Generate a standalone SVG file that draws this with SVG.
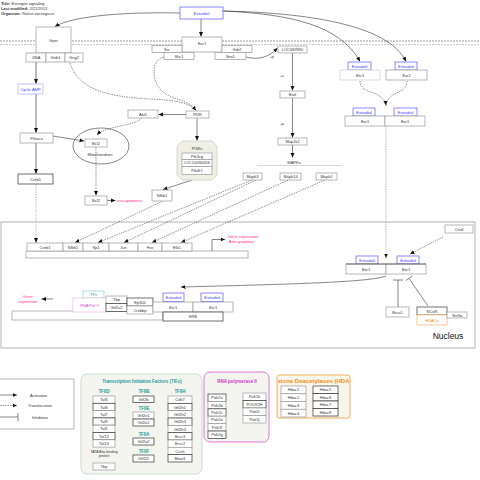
<svg xmlns="http://www.w3.org/2000/svg" width="480" height="480" viewBox="0 0 480 480">
<defs>
<style>
text{font-family:"Liberation Sans",Arial,sans-serif;font-size:4px;fill:#333}
.c{text-anchor:middle;dominant-baseline:central}
.b{fill:#fff;stroke:#999;stroke-width:0.7}
.bd{fill:#fff;stroke:#333;stroke-width:0.7}
.bl{fill:#fff;stroke:#6a6aff;stroke-width:0.8}
.tb{fill:#3a3aff}
.pk{fill:#ff2a8a}
.ln{fill:none;stroke:#333;stroke-width:0.6}
.lg{fill:none;stroke:#aaa;stroke-width:1.6}
.ds{fill:none;stroke:#444;stroke-width:0.6;stroke-dasharray:1.5,1}
.dg{fill:none;stroke:#aaa;stroke-width:0.8;stroke-dasharray:1.5,1}
.hd{font-weight:bold;font-size:4.5px}
.teal{fill:#1a9a9a}
</style>
<marker id="a" markerUnits="userSpaceOnUse" markerWidth="5" markerHeight="5" refX="4.5" refY="2.5" orient="auto">
<path d="M0,0.5 L4.5,2.5 L0,4.5 z" fill="#111"/>
</marker>
<clipPath id="hclip"><rect x="278" y="376" width="71" height="10"/></clipPath>
</defs>

<g id="header">
<text x="1" y="5"><tspan font-weight="bold">Title:</tspan> Estrogen signaling</text>
<text x="1" y="10"><tspan font-weight="bold">Last modified:</tspan> 2/21/2013</text>
<text x="1" y="15"><tspan font-weight="bold">Organism:</tspan> Rattus norvegicus</text>
</g>

<g id="membrane">
<line x1="0" y1="41" x2="480" y2="41" stroke="#555" stroke-width="0.6" stroke-dasharray="2,1"/>
<line x1="0" y1="44.5" x2="480" y2="44.5" stroke="#aaa" stroke-width="0.6" stroke-dasharray="2,1"/>
</g>

<g id="nucleus">
<rect x="1" y="222" width="474" height="126" fill="none" stroke="#aaa" stroke-width="0.9"/>
<text x="448" y="339" style="font-size:8.5px;text-anchor:middle;fill:#111">Nucleus</text>
</g>

<g id="connectors">
<path class="ln" d="M180,13 C130,12 75,15 55,26.5" marker-end="url(#a)"/>
<path class="ln" d="M201,19 L201,36.5" marker-end="url(#a)"/>
<path class="ln" d="M223,11 C290,14 340,25 360,61.5" marker-end="url(#a)"/>
<path class="ln" d="M223,11 C320,13 390,28 406,61.5" marker-end="url(#a)"/>
<path class="ds" d="M360,81 C360,95 384,90 386,105.5" marker-end="url(#a)"/>
<path class="ds" d="M407,81 C407,95 388,90 386,105.5"/>
<path class="dg" d="M386,126 L386,258" marker-end="url(#a)"/>
<path class="ds" d="M443,237 L410,254" marker-end="url(#a)"/>
<path class="ln" d="M246,57 C258,60 268,58 277.5,48" marker-end="url(#a)"/>
<path class="ln" d="M292.5,53 L292.5,90.5" marker-end="url(#a)"/>
<path class="ln" d="M292.5,98 L292.5,137.5" marker-end="url(#a)"/>
<path class="ln" d="M292.5,145 L292.5,157.5" marker-end="url(#a)"/>
<path class="lg" d="M36,62 L36,83.5"/>
<path class="ln" d="M36,80 L36,83.5" marker-end="url(#a)"/>
<path class="lg" d="M36,94 L36,132.5"/>
<path class="ln" d="M36,130 L36,132.5" marker-end="url(#a)"/>
<path class="lg" d="M36,143 L36,173.5"/>
<path class="ln" d="M36,171 L36,173.5" marker-end="url(#a)"/>
<path class="dg" d="M36,184 L36,242.5"/>
<path class="ln" d="M36,239 L36,242.5" marker-end="url(#a)"/>
<path class="ds" d="M70,63 C78,90 110,97 150,99 C175,100 190,103 196,110.5" marker-end="url(#a)"/>
<path class="ds" d="M164,57 C150,60 152,82 162,91 C172,100 190,100 196,110.5"/>
<path class="ln" d="M186,114.5 L158.5,114.5" marker-end="url(#a)"/>
<path class="ln" d="M197,118 L197,140.5" marker-end="url(#a)"/>
<path class="ln" d="M192,180 L163,189.5" marker-end="url(#a)"/>
<path class="ds" d="M142,118 C135,126 105,126 97,135" marker-end="url(#a)"/>
<path class="ln" d="M53,136 L84,141" marker-end="url(#a)"/>
<path class="ds" d="M96,147 L96,195.5" marker-end="url(#a)"/>
<path class="ln" d="M107,200.5 L115.5,200.5" marker-end="url(#a)"/>
<path class="ds" d="M163,201 L75,242.5" marker-end="url(#a)"/>
<path class="ds" d="M252,180 L98,242.5" marker-end="url(#a)"/>
<path class="ds" d="M256,180 L124,242.5" marker-end="url(#a)"/>
<path class="ds" d="M288,180 L152,242.5" marker-end="url(#a)"/>
<path class="ds" d="M325,180 L181,242.5" marker-end="url(#a)"/>
<path class="ln" d="M212,251 L212,239.5 L225,239.5" marker-end="url(#a)"/>
<path class="ln" d="M386,276 C370,282 300,284 181,287" stroke-width="0.8" marker-end="url(#a)"/>
<path class="ln" d="M53,299 L41.5,299" marker-end="url(#a)"/>
<path class="ln" d="M398,307 L398,280"/>
<path class="ln" d="M393,280 L403,280" stroke-width="0.9"/>
<path class="ln" d="M428,306 L409,278.5"/>
<path class="ln" d="M412.3,276 L405.7,280.6" stroke-width="0.9"/>
</g>

<g id="gper">
<rect class="b" x="36" y="27" width="35" height="26"/>
<text class="c" x="53.5" y="40">Gper</text>
<rect class="b" x="26" y="53" width="20" height="9"/><text class="c" x="36" y="57.5">GNA</text>
<rect class="b" x="46" y="53" width="19" height="9"/><text class="c" x="55.5" y="57.5">Gnb1</text>
<rect class="b" x="65" y="53" width="18" height="9"/><text class="c" x="74" y="57.5">Gng2</text>
</g>

<g id="estradiol-top">
<rect class="bl" x="180" y="7" width="43" height="12"/>
<text class="c tb" x="201.5" y="13">Estradiol</text>
</g>

<g id="esr1-membrane">
<rect class="b" x="182" y="37" width="40" height="15"/><text class="c" x="202" y="43">Esr1</text>
<rect class="b" x="152" y="45.5" width="30" height="7"/><text class="c" x="167" y="49">Src</text>
<rect class="b" x="222" y="45.5" width="30" height="7"/><text class="c" x="237" y="49">Grb2</text>
<rect class="b" x="164" y="52.5" width="30" height="7"/><text class="c" x="179" y="56">Shc1</text>
<rect class="b" x="215" y="52.5" width="31" height="7"/><text class="c" x="230.5" y="56">Sos1</text>
<text x="270" y="57.5" style="font-size:3.5px">+p</text>
</g>

<g id="loc"><rect class="b" x="278" y="46" width="29" height="7"/><text class="c" x="292.5" y="49.5">LOC687890</text></g>
<text x="280" y="77" style="font-size:3.5px">+u</text>
<g id="braf"><rect class="b" x="280" y="91" width="25" height="7"/><text class="c" x="292.5" y="94.5">Braf</text></g>
<text x="280" y="125" style="font-size:3.5px">+p</text>
<g id="map2k1"><rect class="b" x="278" y="138" width="29" height="7"/><text class="c" x="292.5" y="141.5">Map2k1</text></g>

<g id="mapks">
<text class="c" x="294" y="162">MAPKs</text>
<line x1="257" y1="165.5" x2="342" y2="165.5" stroke="#bbb" stroke-width="0.6"/>
<rect class="b" x="243" y="173" width="19" height="7"/><text class="c" x="252.5" y="176.5">Mapk3</text>
<rect class="b" x="280" y="173" width="21" height="7"/><text class="c" x="290.5" y="176.5">Mapk14</text>
<rect class="b" x="316" y="173" width="21" height="7"/><text class="c" x="326.5" y="176.5">Mapk1</text>
</g>

<g id="camp"><rect x="18" y="84" width="25" height="10" fill="#fff" stroke="#a8a8ff" stroke-width="0.7"/><text class="c tb" x="30.5" y="89">Cyclic AMP</text></g>
<g id="prkaca"><rect class="b" x="20" y="133" width="33" height="10"/><text class="c" x="36.5" y="138">Prkaca</text></g>
<g id="creb1"><rect class="bd" x="18" y="174" width="35" height="10"/><text class="c" x="35.5" y="179">Creb1</text></g>

<g id="akt1"><rect class="b" x="128" y="110" width="30" height="8"/><text class="c" x="143" y="114">Akt1</text></g>
<g id="pi3k"><rect class="b" x="186" y="111" width="23" height="7"/><text class="c" x="197.5" y="114.5">PI3K</text></g>

<g id="mitochondrion">
<ellipse cx="101" cy="146" rx="28" ry="18" fill="none" stroke="#333" stroke-width="0.6"/>
<text class="c" x="100" y="154">Mitochondrion</text>
<rect class="b" x="85" y="139" width="22" height="8"/><text class="c" x="96" y="143">Bcl2</text>
</g>
<g id="bcl2"><rect class="b" x="85" y="196" width="22" height="9"/><text class="c" x="96" y="200.5">Bcl2</text>
<text class="pk" x="117" y="201.5">anti-apoptosis</text></g>

<g id="pi3ks">
<path d="M182,141 L212,141 L217,146 L217,175 L212,180 L182,180 L177,175 L177,146 Z" fill="#f0efe4" stroke="#ccc" stroke-width="0.8"/>
<text class="c" x="197" y="148">PI3Ks</text>
<rect class="b" x="182" y="153" width="30" height="6.5"/><text class="c" x="197" y="156.3">Pik3cg</text>
<rect class="b" x="182" y="159.5" width="30" height="7"/><text class="c" x="197" y="163" style="font-size:3.6px">LOC100360058</text>
<rect class="b" x="182" y="166.5" width="30" height="8"/><text class="c" x="197" y="170.5">Pik3r1</text>
</g>
<g id="nfkb1"><rect class="b" x="152" y="190" width="20" height="11"/><text class="c" x="162" y="195.5">Nfkb1</text></g>

<g id="estradiol-r">
<rect class="bl" x="348" y="62" width="23" height="8"/><text class="c tb" x="359.5" y="66">Estradiol</text>
<rect class="bl" x="395" y="62" width="22" height="8"/><text class="c tb" x="406" y="66">Estradiol</text>
<rect x="340" y="70" width="40" height="10" fill="#fff" stroke="#ccc" stroke-width="0.7"/><text class="c" x="360" y="75">Esr1</text>
<rect class="b" x="386" y="70" width="41" height="10"/><text class="c" x="406.5" y="75">Esr2</text>
</g>

<g id="dimer">
<rect class="bl" x="353" y="108" width="22" height="8"/><text class="c tb" x="364" y="112">Estradiol</text>
<rect class="bl" x="394" y="108" width="23" height="8"/><text class="c tb" x="405.5" y="112">Estradiol</text>
<rect class="b" x="345" y="116" width="40" height="10"/><text class="c" x="365" y="121">Esr1</text>
<rect class="b" x="385" y="116" width="40" height="10"/><text class="c" x="405" y="121">Esr1</text>
</g>

<g id="targets">
<rect class="b" x="26" y="251" width="222" height="7"/>
<rect class="b" x="27" y="243" width="36" height="8"/><text class="c" x="45" y="247">Creb1</text>
<rect class="b" x="63" y="243" width="20" height="8"/><text class="c" x="73" y="247">Nfkb1</text>
<rect class="b" x="83" y="243" width="26" height="8"/><text class="c" x="96" y="247">Sp1</text>
<rect class="b" x="109" y="243" width="29" height="8"/><text class="c" x="123.5" y="247">Jun</text>
<rect class="b" x="138" y="243" width="24" height="8"/><text class="c" x="150" y="247">Fos</text>
<rect class="b" x="162" y="243" width="30" height="8"/><text class="c" x="177" y="247">Elk1</text>
<text class="pk" x="228" y="238">Gene expression</text>
<text class="pk" x="229" y="243">Anti apoptosis</text>
</g>

<g id="ctsd"><rect class="b" x="445" y="225" width="28" height="8"/><text class="c" x="459" y="229">Ctsd</text></g>

<g id="dimer-nuc">
<rect class="bl" x="356" y="256" width="22" height="8"/><text class="c tb" x="367" y="260">Estradiol</text>
<rect class="bl" x="397" y="256" width="22" height="8"/><text class="c tb" x="408" y="260">Estradiol</text>
<rect class="b" x="346" y="264" width="40" height="10"/><text class="c" x="366" y="269">Esr1</text>
<rect class="b" x="386" y="264" width="40" height="10"/><text class="c" x="406" y="269">Esr1</text>
<line x1="346" y1="264" x2="426" y2="264" stroke="#444" stroke-width="0.7"/>
</g>

<g id="brca1"><rect class="b" x="386" y="307" width="23" height="10"/><text class="c" x="397.5" y="312">Brca1</text></g>
<g id="ncor">
<rect class="bd" x="417" y="307" width="30" height="8"/><text class="c" x="432" y="311">NCoR</text>
<rect x="417" y="315" width="30" height="10" fill="#fff" stroke="#f5b070" stroke-width="0.7"/><text class="c" x="432" y="320" style="fill:#f08a20">HDACs</text>
<rect class="b" x="447" y="312" width="20" height="6"/><text class="c" x="457" y="315">Sin3a</text>
</g>

<g id="ere-complex">
<text class="c pk" x="28" y="296">Gene</text>
<text class="c pk" x="28" y="301">expression</text>
<rect class="b" x="12" y="311" width="151" height="9"/>
<rect x="83" y="291" width="21" height="7" fill="#fff" stroke="#7fd0d0" stroke-width="0.7"/><text class="c teal" x="93.5" y="294.5">TFs</text>
<rect x="73" y="298" width="33" height="14" fill="#fff" stroke="#ebb8eb" stroke-width="0.7"/><text class="c" x="89.5" y="305" style="fill:#d040d0">RNA Pol II</text>
<rect class="b" x="106" y="296" width="21" height="7.5"/><text class="c" x="116.5" y="299.8">Tbp</text>
<rect class="bd" x="106" y="303.5" width="21" height="8"/><text class="c" x="116.5" y="307.5">Gtf2a2</text>
<rect class="bd" x="127" y="298" width="26" height="8"/><text class="c" x="140" y="302">Ep300</text>
<rect class="b" x="127" y="306" width="26" height="8"/><text class="c" x="140" y="310">Crebbp</text>
<rect class="bl" x="163" y="293" width="21" height="8.5"/><text class="c tb" x="173.5" y="297.3">Estradiol</text>
<rect class="bl" x="201" y="293" width="22" height="8.5"/><text class="c tb" x="212" y="297.3">Estradiol</text>
<rect class="b" x="153" y="302" width="40" height="10"/><text class="c" x="173" y="307">Esr1</text>
<rect class="b" x="193" y="302" width="40" height="10"/><text class="c" x="213" y="307">Esr1</text>
<rect class="bd" x="163" y="312" width="60" height="9"/><text class="c" x="193" y="316.5">ERE</text>
</g>

<g id="legend">
<rect x="-1" y="379" width="75" height="50" fill="#fff" stroke="#999" stroke-width="0.7"/>
<path class="ln" d="M0,395 L17,395" marker-end="url(#a)"/>
<text x="30" y="396.5">Activation</text>
<path class="ds" d="M0,405.5 L17,405.5" marker-end="url(#a)"/>
<text x="28" y="407">Translocation</text>
<path class="ln" d="M0,417 L18,417 M18,413 L18,421"/>
<text x="32" y="418.5">Inhibition</text>
</g>

<g id="tifs">
<rect x="81" y="374" width="121" height="100" rx="6" fill="#f5f5ef" stroke="#c8ddd0" stroke-width="1"/>
<text class="c hd teal" x="142" y="381">Transcription Initiation Factors (TIFs)</text>
<text class="c hd teal" x="104" y="391">TFIID</text>
<rect class="b" x="93" y="396" width="22" height="7.3"/><text class="c" x="104" y="399.7">Taf5</text>
<rect class="bd" x="93" y="403.3" width="22" height="7.3"/><text class="c" x="104" y="407">Taf6</text>
<rect class="b" x="93" y="410.6" width="22" height="7.3"/><text class="c" x="104" y="414.3">Taf7</text>
<rect class="bd" x="93" y="417.9" width="22" height="7.3"/><text class="c" x="104" y="421.6">Taf9</text>
<rect class="b" x="93" y="425.2" width="22" height="7.3"/><text class="c" x="104" y="428.9">Taf1</text>
<rect class="bd" x="93" y="432.5" width="22" height="7.3"/><text class="c" x="104" y="436.2">Taf12</text>
<rect class="b" x="93" y="439.8" width="22" height="7.3"/><text class="c" x="104" y="443.5">Taf13</text>
<text class="c" x="104" y="452" style="font-size:3.5px">TATA Box binding</text>
<text class="c" x="104" y="456" style="font-size:3.5px">protein</text>
<rect class="b" x="93" y="463" width="22" height="7"/><text class="c" x="104" y="466.5">Tbp</text>
<text class="c hd teal" x="144" y="391">TFIIB</text>
<rect class="bd" x="133" y="396" width="21" height="6.5"/><text class="c" x="143.5" y="399.3">Gtf2b</text>
<text class="c hd teal" x="144" y="408">TFIIE</text>
<rect class="b" x="133" y="412" width="21" height="7"/><text class="c" x="143.5" y="415.5">Gtf2e1</text>
<rect class="bd" x="133" y="419" width="21" height="7"/><text class="c" x="143.5" y="422.5">Gtf2e2</text>
<text class="c hd teal" x="144" y="434">TFIIA</text>
<rect class="bd" x="133" y="438" width="21" height="7"/><text class="c" x="143.5" y="441.5">Gtf2a2</text>
<text class="c hd teal" x="144" y="451">TFIIF</text>
<rect class="bd" x="133" y="455" width="21" height="7"/><text class="c" x="143.5" y="458.5">Gtf2f2</text>
<text class="c hd teal" x="180" y="391">TFIIH</text>
<rect class="b" x="168" y="396" width="24" height="7.33"/><text class="c" x="180" y="399.7">Cdk7</text>
<rect class="bd" x="168" y="403.33" width="24" height="7.33"/><text class="c" x="180" y="407">Gtf2h1</text>
<rect class="b" x="168" y="410.66" width="24" height="7.33"/><text class="c" x="180" y="414.3">Gtf2h2</text>
<rect class="bd" x="168" y="418" width="24" height="7.33"/><text class="c" x="180" y="421.7">Gtf2h3</text>
<rect class="b" x="168" y="425.33" width="24" height="7.33"/><text class="c" x="180" y="429">Gtf2h4</text>
<rect class="bd" x="168" y="432.66" width="24" height="7.33"/><text class="c" x="180" y="436.3">Ercc3</text>
<rect class="b" x="168" y="440" width="24" height="7.33"/><text class="c" x="180" y="443.7">Ercc2</text>
<rect class="b" x="168" y="447.33" width="24" height="7.33"/><text class="c" x="180" y="451">Ccnh</text>
<rect class="bd" x="168" y="454.66" width="24" height="7.33"/><text class="c" x="180" y="458.3">Mnat1</text>
</g>

<g id="rnapol2">
<rect x="204" y="372" width="65" height="70" rx="6" fill="#f5f5ef" stroke="#dd77dd" stroke-width="1"/>
<text class="c hd" x="237" y="381" style="fill:#cc33cc">RNA polymerase II</text>
<rect class="bd" x="208" y="394" width="18" height="7.4"/><text class="c" x="217" y="397.7">Polr2a</text>
<rect class="b" x="208" y="401.4" width="18" height="7.4"/><text class="c" x="217" y="405.1">Polr2b</text>
<rect class="bd" x="208" y="408.8" width="18" height="7.4"/><text class="c" x="217" y="412.5">Polr2c</text>
<rect class="b" x="208" y="416.2" width="18" height="7.4"/><text class="c" x="217" y="419.9">Polr2e</text>
<rect class="b" x="208" y="423.6" width="18" height="7.4"/><text class="c" x="217" y="427.3">Polr2f</text>
<rect class="bd" x="208" y="431" width="18" height="7.4"/><text class="c" x="217" y="434.7">Polr2g</text>
<rect class="b" x="243" y="393" width="23" height="7.5"/><text class="c" x="254.5" y="396.8">Polr2k</text>
<rect class="bd" x="243" y="400.5" width="23" height="7.5"/><text class="c" x="254.5" y="404.3">POLR2H</text>
<rect class="b" x="243" y="408" width="23" height="7.5"/><text class="c" x="254.5" y="411.8">Polr2i</text>
<rect class="b" x="243" y="415.5" width="23" height="7.5"/><text class="c" x="254.5" y="419.3">Polr2j</text>
</g>

<g id="hdac">
<rect x="277" y="375" width="73" height="43" rx="2" fill="#f8f5ea" stroke="#f0b060" stroke-width="1"/>
<text class="c" x="313.5" y="381" clip-path="url(#hclip)" style="font-weight:bold;font-size:6px;fill:#f09020">Histone Deacetylases (HDAC)</text>
<rect class="b" x="281" y="386" width="25" height="7.75"/><text class="c" x="293.5" y="389.9">Hdac1</text>
<rect class="b" x="281" y="393.75" width="25" height="7.75"/><text class="c" x="293.5" y="397.6">Hdac2</text>
<rect class="b" x="281" y="401.5" width="25" height="7.75"/><text class="c" x="293.5" y="405.4">Hdac3</text>
<rect class="b" x="281" y="409.25" width="25" height="7.75"/><text class="c" x="293.5" y="413.1">Hdac4</text>
<rect class="bd" x="313" y="386" width="25" height="7.5"/><text class="c" x="325.5" y="389.8">Hdac5</text>
<rect class="bd" x="313" y="393.5" width="25" height="7.5"/><text class="c" x="325.5" y="397.3">Hdac6</text>
<rect class="bd" x="313" y="401" width="25" height="7.5"/><text class="c" x="325.5" y="404.8">Hdac7</text>
<rect class="bd" x="313" y="408.5" width="25" height="7.5"/><text class="c" x="325.5" y="412.3">Hdac8</text>
</g>
</svg>
